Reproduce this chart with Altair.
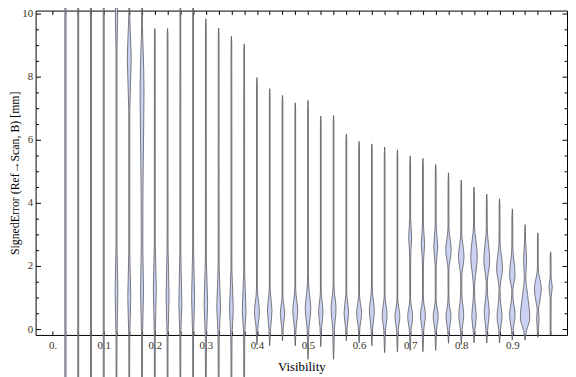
import altair as alt
import pandas as pd

# ---------------- data ----------------
positions = [0.025, 0.05, 0.075, 0.1, 0.125, 0.15, 0.175, 0.2, 0.225, 0.25,
             0.275, 0.3, 0.325, 0.35, 0.375, 0.4, 0.425, 0.45, 0.475, 0.5,
             0.525, 0.55, 0.575, 0.6, 0.625, 0.65, 0.675, 0.7, 0.725, 0.75,
             0.775, 0.8, 0.825, 0.85, 0.875, 0.9, 0.925, 0.95, 0.975]

y_max = [10.8, 10.8, 10.8, 10.8, 10.8, 10.8, 10.8, 9.53, 9.53, 10.8,
         10.8, 9.84, 9.54, 9.28, 9.04, 7.97, 7.62, 7.41, 7.17, 7.25,
         6.75, 6.77, 6.18, 5.95, 5.87, 5.77, 5.68, 5.49, 5.41, 5.22,
         4.95, 4.72, 4.5, 4.28, 4.13, 3.81, 3.31, 3.05, 2.45]

y_min = [-1.8, -1.8, -1.8, -1.8, -1.8, -1.8, -1.8, -1.8, -1.8, -1.8,
         -1.8, -1.8, -1.8, -1.8, -1.8, -0.5, -0.53, -0.37, -0.53, -0.96,
         -0.56, -0.96, -0.375, -0.44, -0.53, -0.75, -0.72, -0.68, -0.72, -0.68,
         -0.45, -0.49, -0.44, -0.44, -0.44, -0.35, -0.35, -0.26, -0.19]

# density profile knots (value, relative half-width) for each violin
profiles = [
    [(-1.6, 0.6), (10.6, 0.6)],
    [(-1.6, 0.5), (10.6, 0.5)],
    [(-1.6, 0.5), (10.6, 0.5)],
    [(-1.6, 0.5), (10.6, 0.5)],
    [(-1.6, 0.4), (-0.2, 0.5), (1.2, 1.4), (2.6, 0.5), (8.9, 0.5), (9.8, 1.1), (10.6, 0.9)],
    [(-1.6, 0.4), (-0.2, 0.5), (1.0, 1.5), (2.5, 0.5), (6.9, 0.5), (8.6, 2.0), (9.9, 0.5), (10.6, 0.4)],
    [(-1.6, 0.4), (-0.2, 0.5), (1.2, 1.5), (2.6, 0.8), (4.2, 0.9), (6.0, 1.5), (7.6, 2.0), (8.8, 1.2), (9.6, 0.4), (10.6, 0.4)],
    [(-1.6, 0.4), (-0.2, 0.5), (1.3, 1.5), (2.6, 0.5), (9.3, 0.4)],
    [(-1.6, 0.4), (-0.2, 0.5), (1.0, 1.5), (2.6, 0.5), (9.3, 0.4)],
    [(-1.6, 0.4), (-0.2, 0.5), (0.8, 1.5), (2.4, 0.5), (10.6, 0.4)],
    [(-1.6, 0.4), (-0.2, 0.5), (1.0, 1.5), (2.5, 0.5), (10.6, 0.4)],
    [(-1.6, 0.4), (-0.2, 0.6), (0.8, 1.8), (2.2, 0.5), (9.6, 0.4)],
    [(-1.6, 0.4), (-0.2, 0.6), (0.7, 1.9), (2.0, 0.5), (9.3, 0.4)],
    [(-1.6, 0.4), (-0.2, 0.6), (0.6, 1.9), (1.9, 0.5), (9.0, 0.4)],
    [(-1.6, 0.4), (-0.1, 0.6), (0.55, 1.9), (1.8, 0.5), (8.8, 0.4)],
    [(-0.3, 0.4), (0.0, 0.8), (0.55, 2.5), (1.1, 0.8), (1.4, 0.4), (7.7, 0.4)],
    [(-0.3, 0.4), (0.0, 0.8), (0.6, 2.3), (1.1, 0.8), (1.4, 0.4), (7.4, 0.4)],
    [(-0.2, 0.4), (0.05, 0.8), (0.5, 2.2), (0.9, 0.8), (1.1, 0.4), (7.2, 0.4)],
    [(-0.3, 0.4), (0.0, 0.8), (0.6, 2.5), (1.1, 0.8), (1.4, 0.4), (6.9, 0.4)],
    [(-0.7, 0.4), (-0.05, 0.8), (0.65, 2.8), (1.3, 0.9), (1.7, 0.4), (7.0, 0.4)],
    [(-0.3, 0.4), (0.05, 0.8), (0.55, 2.3), (1.0, 0.8), (1.2, 0.4), (6.5, 0.4)],
    [(-0.7, 0.4), (-0.05, 0.8), (0.65, 2.5), (1.2, 0.8), (1.5, 0.4), (6.5, 0.4)],
    [(-0.2, 0.4), (0.05, 0.8), (0.5, 2.3), (1.0, 0.8), (1.2, 0.4), (6.0, 0.4)],
    [(-0.25, 0.4), (0.05, 0.8), (0.5, 2.5), (0.95, 0.8), (1.1, 0.4), (5.7, 0.4)],
    [(-0.3, 0.4), (0.0, 0.8), (0.6, 2.5), (1.1, 0.8), (1.4, 0.4), (5.6, 0.4)],
    [(-0.5, 0.4), (-0.05, 0.8), (0.45, 2.5), (0.9, 0.8), (1.1, 0.4), (5.5, 0.4)],
    [(-0.5, 0.4), (-0.05, 0.8), (0.4, 2.5), (0.8, 0.8), (1.0, 0.4), (5.4, 0.4)],
    [(-0.45, 0.4), (-0.05, 0.8), (0.4, 2.5), (0.8, 0.8), (1.0, 0.4), (2.3, 0.5), (2.9, 1.5), (3.5, 0.5), (5.2, 0.4)],
    [(-0.5, 0.4), (-0.05, 0.8), (0.45, 2.5), (0.85, 0.8), (1.07, 0.4), (2.1, 0.5), (2.7, 1.7), (3.3, 0.5), (5.1, 0.4)],
    [(-0.45, 0.4), (-0.05, 0.8), (0.4, 2.5), (0.8, 0.8), (1.0, 0.4), (2.0, 0.5), (2.6, 2.0), (3.3, 0.5), (5.0, 0.4)],
    [(-0.25, 0.4), (-0.05, 0.8), (0.4, 2.5), (0.8, 0.8), (1.1, 0.4), (1.9, 0.5), (2.5, 2.8), (3.2, 0.5), (4.7, 0.4)],
    [(-0.3, 0.4), (-0.05, 0.8), (0.45, 2.5), (1.0, 0.8), (1.3, 0.5), (1.7, 0.7), (2.3, 2.8), (3.05, 0.5), (4.5, 0.4)],
    [(-0.3, 0.4), (-0.05, 0.8), (0.4, 2.3), (0.95, 0.8), (1.28, 0.5), (1.5, 0.9), (2.3, 3.3), (3.3, 0.5), (4.3, 0.4)],
    [(-0.3, 0.4), (-0.05, 0.8), (0.55, 2.5), (1.1, 0.8), (1.43, 0.5), (1.65, 1.0), (2.15, 3.0), (3.2, 0.5), (4.1, 0.4)],
    [(-0.3, 0.4), (-0.05, 0.8), (0.4, 2.5), (0.95, 0.8), (1.28, 0.5), (1.45, 1.0), (1.9, 3.0), (2.8, 0.5), (3.9, 0.4)],
    [(-0.25, 0.4), (-0.05, 0.8), (0.45, 2.8), (0.95, 0.8), (1.22, 0.5), (1.35, 1.0), (1.7, 2.8), (2.6, 0.5), (3.6, 0.4)],
    [(-0.25, 0.4), (-0.05, 1.5), (0.35, 4.8), (1.1, 2.5), (1.6, 0.8), (1.8, 1.0), (2.2, 1.5), (2.8, 0.5), (3.1, 0.4)],
    [(-0.2, 0.4), (0.1, 0.8), (0.34, 1.3), (0.6, 0.6), (0.8, 1.5), (1.28, 3.5), (1.8, 0.8), (2.0, 0.4), (2.9, 0.4)],
    [(-0.15, 0.4), (1.0, 0.5), (1.33, 1.7), (1.65, 0.5), (2.35, 0.4)],
]

x_ticks = [0.0] + positions
x_label_values = [0.0, 0.1, 0.2, 0.3, 0.4, 0.5, 0.6, 0.7, 0.8, 0.9]
y_major = [0, 2, 4, 6, 8, 10]
y_minor = [0.5, 1, 1.5, 2.5, 3, 3.5, 4.5, 5, 5.5, 6.5, 7, 7.5, 8.5, 9, 9.5]

# ---------------- layout / style ----------------
W, H = 539, 329
X_DOMAIN = [-0.0334, 1.0071]
Y_DOMAIN = [-0.1875, 10.094]
PX = (X_DOMAIN[1] - X_DOMAIN[0]) / W      # one pixel in Visibility units
FONT = "Liberation Serif"
FILL = "#cad1f3"
EDGE = "#4a4a4a"
LABEL_COLOR = "#3a3020"

rows = []
for pos, lo, hi, knots in zip(positions, y_min, y_max, profiles):
    pts = [(lo, 0.0)] + list(knots) + [(hi, 0.0)]
    for v, w in pts:
        rows.append({"pos": pos, "v": v, "xl": pos - w * PX, "xr": pos + w * PX})
df = pd.DataFrame(rows)

xs = alt.Scale(domain=X_DOMAIN, nice=False, zero=False)
ys = alt.Scale(domain=Y_DOMAIN, nice=False, zero=False)

violins = alt.Chart(df).mark_area(
    orient="horizontal", interpolate="monotone", fill=FILL, fillOpacity=1,
    stroke=EDGE, strokeWidth=0.8, strokeOpacity=0.9,
).encode(
    y=alt.Y("v:Q", scale=ys, axis=alt.Axis(
        values=y_major, format="d", ticks=False, tickSize=0, domain=False, grid=False,
        labelPadding=3, labelFont=FONT, labelFontSize=11, labelColor=LABEL_COLOR,
        title="SignedError (Ref→Scan, B) [mm]", titleFont=FONT, titleFontSize=12,
        titleFontWeight="normal", titleColor="black", titlePadding=0)),
    x=alt.X("xl:Q", scale=xs, stack=None, axis=alt.Axis(
        values=x_label_values,
        labelExpr="datum.value == 0 ? '0.' : format(datum.value, '.1f')",
        ticks=False, tickSize=0, domain=False, grid=False, labelPadding=5,
        labelFont=FONT, labelFontSize=11, labelColor=LABEL_COLOR,
        title="Visibility", titleFont=FONT, titleFontSize=13,
        titleFontWeight="normal", titleColor="black", titlePadding=10)),
    x2="xr:Q",
    detail="pos:N",
)


def tick_layer(x_axis, y_axis):
    return alt.Chart(df).mark_point(opacity=0, size=1).encode(
        x=alt.X("pos:Q", scale=xs, axis=x_axis),
        y=alt.Y("v:Q", scale=ys, axis=y_axis),
    )


def xt(orient):
    # inward ticks: axis moved onto the opposite frame edge
    return alt.Axis(orient=orient, offset=-H, values=x_ticks, labels=False, tickSize=4,
                    tickColor="black", tickWidth=1, domain=False, grid=False, title=None)


def yt(orient, vals, size):
    return alt.Axis(orient=orient, offset=-W, values=vals, labels=False, tickSize=size,
                    tickColor="black", tickWidth=1, domain=False, grid=False, title=None)


layers = [
    violins,
    tick_layer(xt("top"), yt("right", y_major, 5)),
    tick_layer(xt("bottom"), yt("left", y_major, 5)),
    tick_layer(None, yt("right", y_minor, 3)),
    tick_layer(None, yt("left", y_minor, 3)),
]

chart = alt.layer(*layers).resolve_axis(x="independent", y="independent").properties(
    width=W, height=H,
    autosize=alt.AutoSizeParams(type="none"),
    padding={"left": 28, "top": 0, "right": 1, "bottom": 40},
    background="white",
).configure_view(stroke="black", strokeWidth=1)

chart.save("out.html", embed_options={"renderer": "svg", "actions": False})
